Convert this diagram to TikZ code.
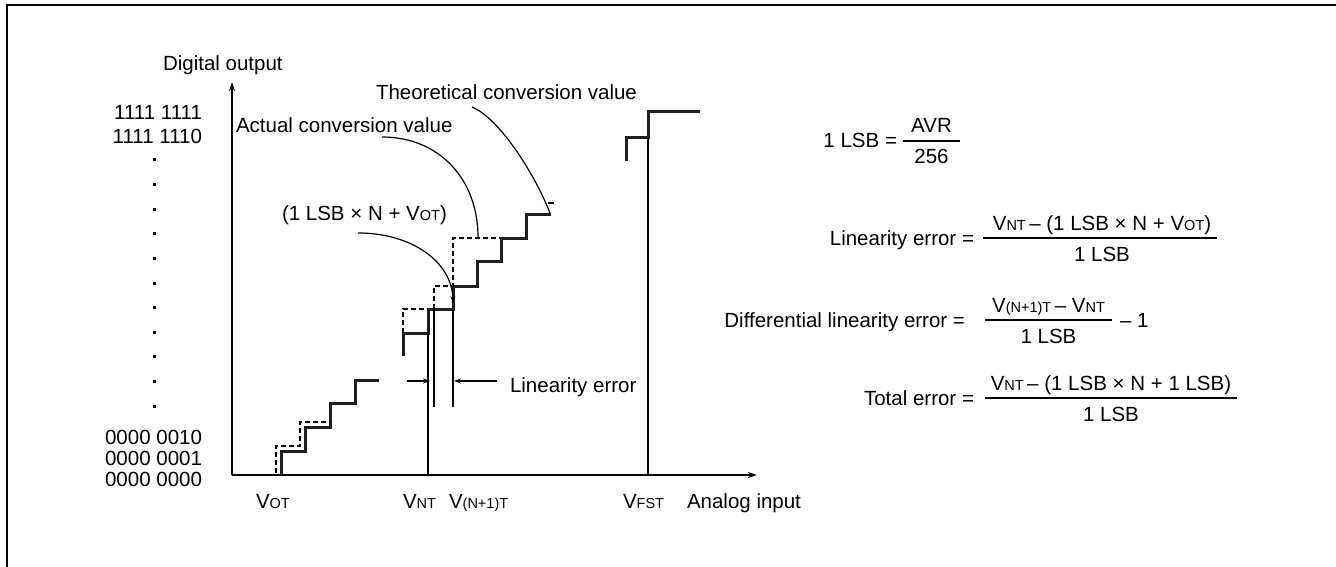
\documentclass[tikz,border=0pt]{standalone}
\usepackage{fontspec}
\setmainfont{Liberation Sans}
\usetikzlibrary{arrows.meta}
\newcommand{\lo}[1]{{\fontsize{14.5}{15}\selectfont #1}}
\begin{document}
\begin{tikzpicture}[x=1pt,y=-1pt,
  every node/.style={inner sep=0pt,outer sep=0pt,font=\fontsize{20.5}{24}\selectfont},
  stepline/.style={line width=3pt,draw=black!88,line join=miter},
  thinline/.style={line width=1.2pt},
  dashline/.style={line width=1.2pt,dash pattern=on 5pt off 3pt},
  axisline/.style={line width=2pt},
  tipa/.style={-{Stealth[length=9pt,width=6pt]}},
  tipb/.style={-{Stealth[length=7pt,width=5pt]}},
  fracbar/.style={line width=1.3pt},
  dotmark/.style={fill=black,minimum size=3pt,inner sep=0pt}
]
\useasboundingbox (0,0) rectangle (1336,567);
% frame
\draw[line width=2pt] (7,570) -- (7,5.5) -- (1340,5.5);

% axes
\coordinate (O) at (232,475);
\coordinate (yT) at (232,82);
\coordinate (xR) at (757,475);
\draw[axisline,tipa] (O) -- (yT);
\draw[axisline,tipa] (O) -- (xR);

% y labels
\node[anchor=base west] (dout) at (163,71) {Digital output};
\node[anchor=base east] (y255) at (202,120) {1111 1111};
\node[anchor=base east] (y254) at (202,143) {1111 1110};
\node[anchor=base east] (y2) at (202,444) {0000 0010};
\node[anchor=base east] (y1) at (202,465) {0000 0001};
\node[anchor=base east] (y0) at (202,486) {0000 0000};
\foreach \i in {0,...,10} {
  \node[dotmark] (dot\i) at (154,{160+24.6*\i}) {};
}

% x labels
\node[anchor=base west] (vot) at (256,508) {V\lo{OT}};
\node[anchor=base west] (vntl) at (403,508) {V\lo{NT}};
\node[anchor=base west] (vn1) at (449,508) {V\lo{(N+1)T}};
\node[anchor=base west] (vfst) at (623,508) {V\lo{FST}};
\node[anchor=base west] (ain) at (687,508) {Analog input};

% staircases
\draw[stepline] (281,475) -- (281,451) -- (305,451) -- (305,427) -- (330,427) -- (330,403) -- (355,403) -- (355,380) -- (379,380);
\draw[dashline] (276,473) -- (276,446) -- (300,446) -- (300,422) -- (330,422);
\draw[stepline] (403,356) -- (403,333) -- (428,333) -- (428,309) -- (453,309) -- (453,286) -- (477,286) -- (477,261) -- (501,261) -- (501,238) -- (526,238) -- (526,214) -- (551,214);
\draw[dashline] (403,333) -- (403,309) -- (428,309);
\draw[dashline] (434,309) -- (434,286) -- (453,286) -- (453,238) -- (501,238);
\draw[thinline] (548,203) -- (554,203);
\draw[stepline] (626,161) -- (626,138) -- (648,138) -- (648,112) -- (700,112);

% vertical guide lines
\coordinate (gNT) at (428,475);
\coordinate (gNTt) at (428,333);
\coordinate (gA) at (434,407);
\coordinate (gAt) at (434,309);
\coordinate (gB) at (453,407);
\coordinate (gBt) at (453,309);
\coordinate (gF) at (648,475);
\coordinate (gFt) at (648,138);
\draw[thinline] (gNT) -- (gNTt);
\draw[thinline] (gA) -- (gAt);
\draw[thinline] (gB) -- (gBt);
\draw[thinline] (gF) -- (gFt);

% linearity error arrows
\coordinate (le1s) at (407,381);
\coordinate (le1e) at (430,381);
\coordinate (le2s) at (497,381);
\coordinate (le2e) at (454,381);
\draw[thinline,tipb] (le1s) -- (le1e);
\draw[thinline,tipb] (le2s) -- (le2e);
\node[anchor=base west] (lelab) at (510,392) {Linearity error};

% leader labels and curves
\node[anchor=base west] (theo) at (376,100) {Theoretical conversion value};
\node[anchor=base west] (act) at (236,132) {Actual conversion value};
\node[anchor=base west] (lsbn) at (282,220) {(1 LSB × N + V\lo{OT})};
\coordinate (thS) at (472,107);
\coordinate (thE) at (550,213);
\coordinate (acS) at (382,137);
\coordinate (acE) at (478,237);
\coordinate (lnS) at (358,233);
\coordinate (lnE) at (453,303);
\draw[thinline] (thS) .. controls (497,117) and (532,168) .. (thE);
\draw[thinline] (acS) .. controls (440,137) and (478,180) .. (acE);
\draw[thinline,tipb] (lnS) .. controls (412,233) and (452,262) .. (lnE);

% formulas
% 1 LSB
\node[anchor=base east] (f1l) at (897,148) {1 LSB =};
\coordinate (f1a) at (903,141);
\coordinate (f1b) at (960,141);
\draw[fracbar] (f1a) -- (f1b);
\node[anchor=base] (f1n) at (931.5,133) {AVR};
\node[anchor=base] (f1d) at (931.5,164) {256};
% Linearity error
\node[anchor=base east] (f2l) at (974,245) {Linearity error =};
\coordinate (f2a) at (983,238);
\coordinate (f2b) at (1217,238);
\draw[fracbar] (f2a) -- (f2b);
\node[anchor=base] (f2n) at (1102,230) {V\lo{NT}\,– (1 LSB × N + V\lo{OT})};
\node[anchor=base] (f2d) at (1102,261) {1 LSB};
% Differential
\node[anchor=base east] (f3l) at (965,327) {Differential linearity error =};
\coordinate (f3a) at (985,320);
\coordinate (f3b) at (1112,320);
\draw[fracbar] (f3a) -- (f3b);
\node[anchor=base] (f3n) at (1048.5,312) {V\lo{(N+1)T}\,– V\lo{NT}};
\node[anchor=base] (f3d) at (1048.5,343) {1 LSB};
\node[anchor=base west] (f3m) at (1120,327) {– 1};
% Total
\node[anchor=base east] (f4l) at (974,405) {Total error =};
\coordinate (f4a) at (985,398);
\coordinate (f4b) at (1237,398);
\draw[fracbar] (f4a) -- (f4b);
\node[anchor=base] (f4n) at (1111,390) {V\lo{NT}\,– (1 LSB × N + 1 LSB)};
\node[anchor=base] (f4d) at (1111,421) {1 LSB};
\end{tikzpicture}
\end{document}
